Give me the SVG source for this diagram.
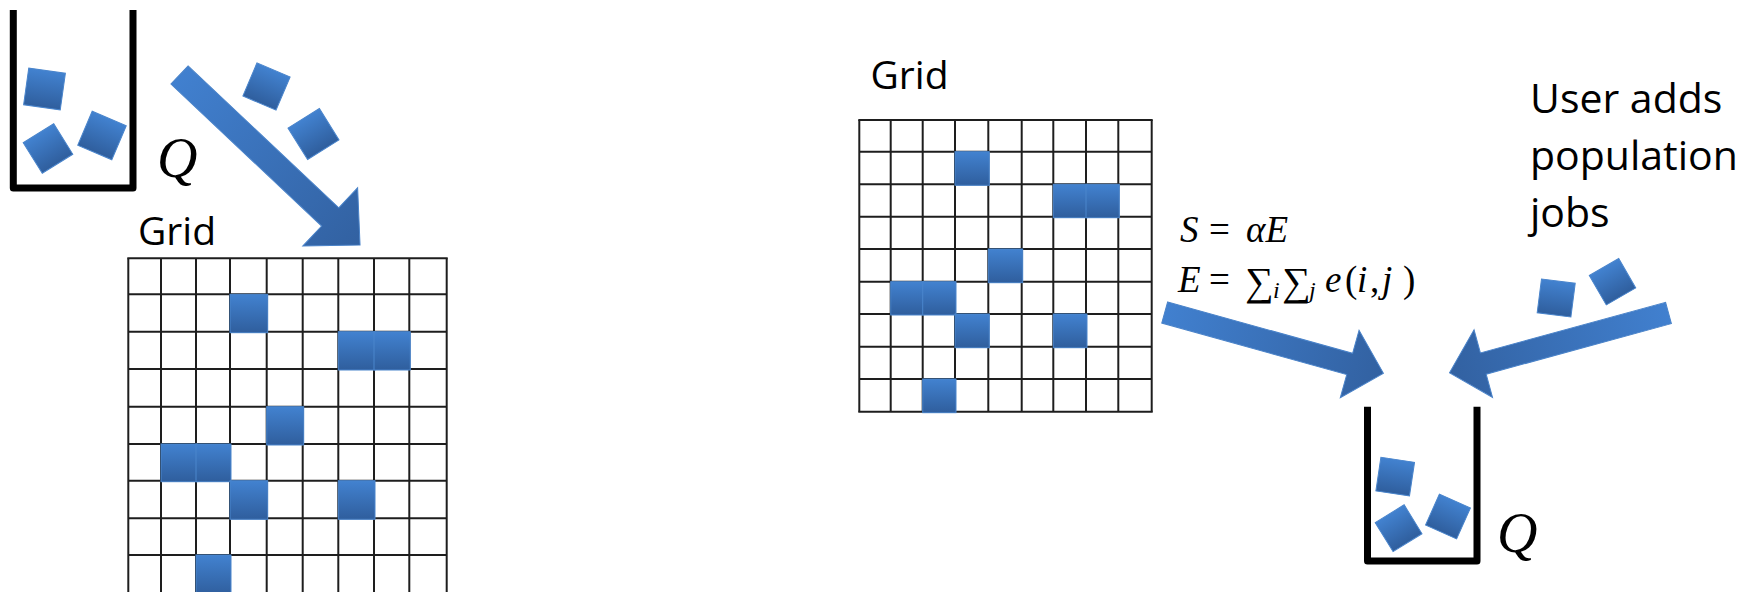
<svg xmlns="http://www.w3.org/2000/svg" width="1758" height="592" viewBox="0 0 1758 592">
<defs>
<linearGradient id="sq" x1="0" y1="0" x2="0" y2="1">
<stop offset="0" stop-color="#4282d0"/>
<stop offset="1" stop-color="#2f5e9d"/>
</linearGradient>
<linearGradient id="ar" x1="0" y1="0" x2="1" y2="0">
<stop offset="0" stop-color="#4180cf"/>
<stop offset="1" stop-color="#3261a1"/>
</linearGradient>
<style>
.sq{fill:url(#sq);stroke:#4a85cc;stroke-width:1}
.cell{fill:url(#sq);stroke:#4a85cc;stroke-width:1}
.arrow{fill:url(#ar);stroke:#4a83c9;stroke-width:1}
.bucket{fill:none;stroke:#000;stroke-width:7;stroke-linejoin:round;stroke-linecap:butt}
.grid line{stroke:#1e1e1e;stroke-width:2}
.lbl{font-family:"Open Sans","Liberation Sans",sans-serif;fill:#000}
.math{font-family:"Liberation Serif","DejaVu Serif",serif;fill:#000}
.it{font-style:italic}
</style>
</defs>

<g id="queue-left">
<polyline class="bucket" points="13.3,10 13.3,188 133,188 133,10"/>
<rect class="sq" x="-18.5" y="-18.5" width="37" height="37" transform="translate(44.5,89) rotate(8)"/>
<rect class="sq" x="-18" y="-18" width="36" height="36" transform="translate(48,148.5) rotate(-32)"/>
<rect class="sq" x="-18.5" y="-18.5" width="37" height="37" transform="translate(102,135.5) rotate(23)"/>
<text class="math it" x="157" y="177" font-size="56">Q</text>
</g>

<g id="falling-jobs-left">
<rect class="sq" x="-18" y="-18" width="36" height="36" transform="translate(266.5,86.5) rotate(23)"/>
<rect class="sq" x="-18.5" y="-18.5" width="37" height="37" transform="translate(313.5,134) rotate(-32)"/>
</g>

<g id="grid-left">
<text class="lbl" x="138" y="245" font-size="39">Grid</text>
<g class="grid">
<line x1="128.3" y1="258.3" x2="128.3" y2="600"/>
<line x1="161" y1="258.3" x2="161" y2="600"/>
<line x1="196" y1="258.3" x2="196" y2="600"/>
<line x1="230" y1="258.3" x2="230" y2="600"/>
<line x1="266.7" y1="258.3" x2="266.7" y2="600"/>
<line x1="302.7" y1="258.3" x2="302.7" y2="600"/>
<line x1="338.3" y1="258.3" x2="338.3" y2="600"/>
<line x1="374" y1="258.3" x2="374" y2="600"/>
<line x1="409.3" y1="258.3" x2="409.3" y2="600"/>
<line x1="446.7" y1="258.3" x2="446.7" y2="600"/>
<line x1="127.3" y1="258.3" x2="447.7" y2="258.3"/>
<line x1="128.3" y1="294.3" x2="446.7" y2="294.3"/>
<line x1="128.3" y1="331.7" x2="446.7" y2="331.7"/>
<line x1="128.3" y1="369" x2="446.7" y2="369"/>
<line x1="128.3" y1="406.7" x2="446.7" y2="406.7"/>
<line x1="128.3" y1="444" x2="446.7" y2="444"/>
<line x1="128.3" y1="480.7" x2="446.7" y2="480.7"/>
<line x1="128.3" y1="518.3" x2="446.7" y2="518.3"/>
<line x1="128.3" y1="555" x2="446.7" y2="555"/>
</g>
<rect class="cell" x="230" y="294.3" width="37.7" height="38.4"/>
<rect class="cell" x="338.3" y="331.7" width="36.7" height="38.3"/>
<rect class="cell" x="374" y="331.7" width="36.3" height="38.3"/>
<rect class="cell" x="266.7" y="406.7" width="37" height="38.3"/>
<rect class="cell" x="161" y="444" width="36" height="37.7"/>
<rect class="cell" x="196" y="444" width="35" height="37.7"/>
<rect class="cell" x="230" y="480.7" width="37.7" height="38.6"/>
<rect class="cell" x="338.3" y="480.7" width="36.7" height="38.6"/>
<rect class="cell" x="196" y="555" width="35" height="40"/>
</g>

<g id="grid-right">
<text class="lbl" x="870.5" y="89.3" font-size="39">Grid</text>
<g class="grid">
<line x1="859.3" y1="120" x2="859.3" y2="411.7"/>
<line x1="890.7" y1="120" x2="890.7" y2="411.7"/>
<line x1="922.7" y1="120" x2="922.7" y2="411.7"/>
<line x1="955" y1="120" x2="955" y2="411.7"/>
<line x1="988.3" y1="120" x2="988.3" y2="411.7"/>
<line x1="1021.7" y1="120" x2="1021.7" y2="411.7"/>
<line x1="1053.3" y1="120" x2="1053.3" y2="411.7"/>
<line x1="1086" y1="120" x2="1086" y2="411.7"/>
<line x1="1118.3" y1="120" x2="1118.3" y2="411.7"/>
<line x1="1151.7" y1="120" x2="1151.7" y2="411.7"/>
<line x1="858.3" y1="120" x2="1152.7" y2="120"/>
<line x1="859.3" y1="151.7" x2="1151.7" y2="151.7"/>
<line x1="859.3" y1="184.3" x2="1151.7" y2="184.3"/>
<line x1="859.3" y1="216.7" x2="1151.7" y2="216.7"/>
<line x1="859.3" y1="249" x2="1151.7" y2="249"/>
<line x1="859.3" y1="281.7" x2="1151.7" y2="281.7"/>
<line x1="859.3" y1="314" x2="1151.7" y2="314"/>
<line x1="859.3" y1="346.7" x2="1151.7" y2="346.7"/>
<line x1="859.3" y1="379" x2="1151.7" y2="379"/>
<line x1="858.3" y1="411.7" x2="1152.7" y2="411.7"/>
</g>
<rect class="cell" x="955" y="151.7" width="34.3" height="33.6"/>
<rect class="cell" x="1053.3" y="184.3" width="33.7" height="33.4"/>
<rect class="cell" x="1086" y="184.3" width="33.3" height="33.4"/>
<rect class="cell" x="988.3" y="249" width="34.4" height="33.7"/>
<rect class="cell" x="890.7" y="281.7" width="33" height="33.3"/>
<rect class="cell" x="922.7" y="281.7" width="33.3" height="33.3"/>
<rect class="cell" x="955" y="314" width="34.3" height="33.7"/>
<rect class="cell" x="1053.3" y="314" width="33.7" height="33.7"/>
<rect class="cell" x="922.7" y="379" width="33.3" height="33.7"/>
</g>

<g id="formula">
<text class="math" font-size="37" y="241.7"><tspan class="it" x="1180">S</tspan><tspan x="1209">=</tspan><tspan class="it" x="1246">αE</tspan></text>
<text class="math" font-size="37"><tspan class="it" x="1178" y="291.7">E</tspan><tspan x="1209" y="291.7">=</tspan><tspan x="1245" y="295" font-size="40">∑</tspan><tspan class="it" x="1273" y="298" font-size="24">i</tspan><tspan x="1282" y="295" font-size="40">∑</tspan><tspan class="it" x="1309" y="298" font-size="24">j</tspan><tspan class="it" x="1325" y="291.7">e</tspan><tspan x="1345" y="291.7">(</tspan><tspan class="it" x="1357" y="291.7">i</tspan><tspan x="1370" y="291.7">,</tspan><tspan class="it" x="1382" y="291.7">j</tspan><tspan x="1403" y="291.7">)</tspan></text>
</g>

<g id="user-label">
<text class="lbl" font-size="41"><tspan x="1530" y="113">User adds</tspan><tspan x="1530" y="170">population</tspan><tspan x="1530" y="227">jobs</tspan></text>
</g>

<g id="falling-jobs-right">
<rect class="sq" x="-17" y="-17" width="34" height="34" transform="translate(1556.2,298) rotate(7.3)"/>
<rect class="sq" x="-17" y="-17" width="34" height="34" transform="translate(1612.5,281.7) rotate(-30)"/>
</g>

<g id="queue-right">
<polyline class="bucket" points="1367.5,406.7 1367.5,561 1477,561 1477,406.7"/>
<rect class="sq" x="-17" y="-17" width="34" height="34" transform="translate(1395.2,476.6) rotate(8.5)"/>
<rect class="sq" x="-17" y="-17" width="34" height="34" transform="translate(1398.6,528.2) rotate(-31.7)"/>
<rect class="sq" x="-17" y="-17" width="34" height="34" transform="translate(1448,516.5) rotate(24)"/>
<text class="math it" x="1497" y="552" font-size="56">Q</text>
</g>

<g id="connectors">
<polygon class="arrow" points="0,-12.5 207,-12.5 207,-40 248,0 207,40 207,12.5 0,12.5" transform="translate(179.5,75) rotate(43.28)"/>
<polygon class="arrow" points="0,-11 192,-11 192,-35 227,0 192,35 192,11 0,11" transform="translate(1164.7,312.5) rotate(15.54)"/>
<polygon class="arrow" points="0,-11 192,-11 192,-35 227,0 192,35 192,11 0,11" transform="translate(1668.5,313) rotate(164.72)"/>
</g>
</svg>
